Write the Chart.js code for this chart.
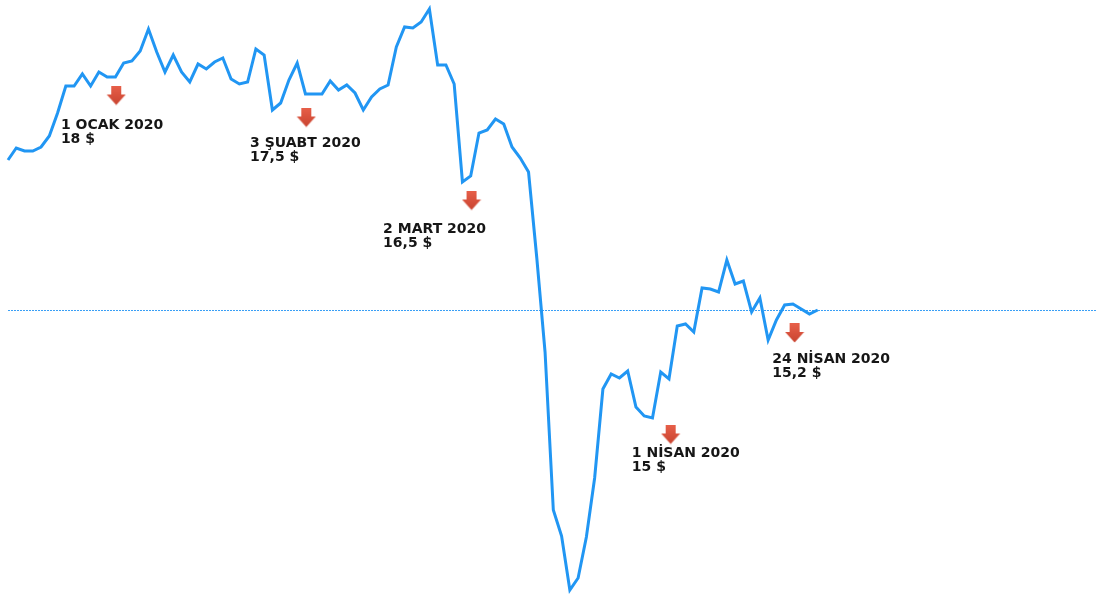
<!DOCTYPE html>
<html>
<head>
<meta charset="utf-8">
<script src="https://cdn.jsdelivr.net/npm/chart.js@4"></script>
<style>
  html, body { margin: 0; padding: 0; background: #fff; }
  #wrap { width: 1097px; height: 595px; position: relative; }
</style>
</head>
<body>
<div id="wrap"><canvas id="chart"></canvas></div>
<script>
// daily closes, one point per trading day
var prices = [
  43.5, 44.7, 44.4, 44.4, 44.8, 45.9, 48.2, 50.9, 50.9, 52.1,
  50.9, 52.3, 51.8, 51.8, 53.2, 53.4, 54.4, 56.6, 54.3, 52.3,
  54.0, 52.3, 51.3, 53.1, 52.6, 53.3, 53.7, 51.6, 51.1, 51.3,
  54.6, 54.0, 48.5, 49.2, 51.5, 53.2, 50.1, 50.1, 50.1, 51.4,
  50.5, 51.0, 50.2, 48.5, 49.8, 50.6, 51.0, 54.8, 56.8, 56.7,
  57.3, 58.6, 53.0, 53.0, 51.1, 41.3, 41.9, 46.2, 46.5, 47.6,
  47.1, 44.8, 43.7, 42.3, 33.7, 24.3, 8.5, 5.9, 0.5, 1.7,
  5.8, 11.7, 20.6, 22.1, 21.7, 22.4, 18.8, 17.9, 17.7, 22.3,
  21.6, 26.9, 27.1, 26.3, 30.7, 30.6, 30.3, 33.5, 31.1, 31.4,
  28.3, 29.7, 25.5, 27.5, 29.0, 29.1, 28.6, 28.1, 28.5
];
var lastLevel = 28.45;
var dayCount = 131.8;   // width of the time axis, in trading days

// dated notes: arrow spot and text spot, in day / price units
var noteDates  = ['1 OCAK 2020', '3 ŞUABT 2020', '2 MART 2020', '1 NİSAN 2020', '24 NİSAN 2020'];
var notePrices = ['18 $', '17,5 $', '16,5 $', '15 $', '15,2 $'];
var arrowDay   = [13.1, 36.1, 56.1, 80.2, 95.2];
var arrowLevel = [49.95, 47.75, 39.45, 16.05, 26.2];
var textDay    = [6.4, 29.3, 45.4, 75.5, 92.5];
var textLevel  = [47.0, 45.2, 36.6, 14.2, 23.6];

var linePoints = prices.map(function (v, i) { return { x: i, y: v }; });
var arrowPoints = arrowDay.map(function (d, i) { return { x: d, y: arrowLevel[i] }; });

// small red block arrow used as point style
function makeArrow() {
  var c = document.createElement('canvas');
  c.width = 20; c.height = 20;
  var g = c.getContext('2d');
  var grad = g.createLinearGradient(0, 0, 0, 20);
  grad.addColorStop(0, '#e8604a');
  grad.addColorStop(1, '#c8432f');
  g.fillStyle = grad;
  g.beginPath();
  g.moveTo(5, 0); g.lineTo(15, 0); g.lineTo(15, 9);
  g.lineTo(19.5, 9); g.lineTo(10, 19.5); g.lineTo(0.5, 9);
  g.lineTo(5, 9); g.closePath();
  g.fill();
  return c;
}

var noteText = {
  id: 'noteText',
  afterDatasetsDraw: function (chart) {
    var ctx = chart.ctx, xs = chart.scales.x, ys = chart.scales.y;
    ctx.save();
    ctx.fillStyle = '#161616';
    ctx.font = 'bold 14px "DejaVu Sans", Verdana, sans-serif';
    ctx.textBaseline = 'middle';
    ctx.textAlign = 'left';
    for (var i = 0; i < noteDates.length; i++) {
      var px = xs.getPixelForValue(textDay[i]);
      var py = ys.getPixelForValue(textLevel[i]);
      ctx.fillText(noteDates[i], px, py);
      ctx.fillText(notePrices[i], px, py + 14.5);
    }
    ctx.restore();
  }
};

new Chart(document.getElementById('chart'), {
  type: 'line',
  data: {
    datasets: [{
      data: linePoints,
      borderColor: '#2196f3',
      borderWidth: 3,
      pointRadius: 0,
      tension: 0,
      clip: false
    }, {
      data: [{ x: 0, y: lastLevel }, { x: dayCount, y: lastLevel }],
      borderColor: '#3a9ff5',
      borderWidth: 1.2,
      borderDash: [2, 1],
      pointRadius: 0
    }, {
      type: 'scatter',
      data: arrowPoints,
      pointStyle: makeArrow(),
      pointRadius: 10,
      showLine: false,
      clip: false
    }]
  },
  options: {
    responsive: true,
    maintainAspectRatio: false,
    animation: false,
    layout: { autoPadding: false, padding: { left: 8, right: 0, top: 0, bottom: 0 } },
    scales: {
      x: { type: 'linear', min: 0, max: dayCount, display: false },
      y: { min: 0, max: 59.5, display: false }
    },
    plugins: {
      legend: { display: false },
      tooltip: { enabled: false }
    }
  },
  plugins: [noteText]
});
</script>
</body>
</html>
